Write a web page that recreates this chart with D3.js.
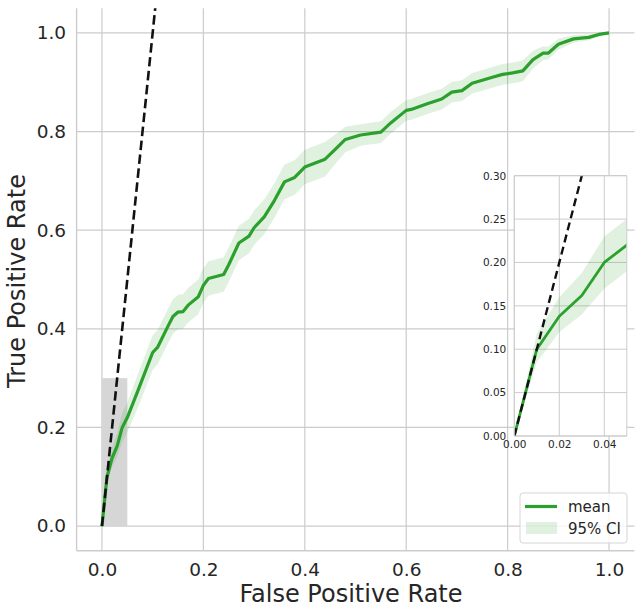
<!DOCTYPE html>
<html>
<head>
<meta charset="utf-8">
<title>ROC curve</title>
<script src="https://d3js.org/d3.v7.min.js"></script>
<style>
  body { margin: 0; background: #fff; }
  svg { display: block; font-family: "DejaVu Sans", sans-serif; }
</style>
</head>
<body>
<svg id="chart"></svg>
<script>
    // mean ROC curve and its 95% CI
    let fpr = [0.00, 0.01, 0.02, 0.03, 0.04, 0.05, 0.07, 0.10, 0.11, 0.13, 0.14, 0.15, 0.16, 0.17, 0.19, 0.20,
        0.21, 0.24, 0.25, 0.27, 0.29, 0.30, 0.32, 0.34, 0.36, 0.38, 0.40, 0.44, 0.46, 0.48, 0.51, 0.55, 0.57,
        0.60, 0.61, 0.64, 0.67, 0.69, 0.71, 0.73, 0.75, 0.77, 0.79, 0.81, 0.83, 0.85, 0.87, 0.88, 0.90, 0.93,
        0.96, 0.98, 1.00];
    let tprMean = [0.000, 0.100, 0.138, 0.162, 0.200, 0.220, 0.272, 0.352, 0.363, 0.405, 0.425, 0.434, 0.435,
        0.448, 0.465, 0.488, 0.502, 0.510, 0.530, 0.574, 0.588, 0.605, 0.627, 0.660, 0.698, 0.707, 0.728, 0.744,
        0.764, 0.784, 0.793, 0.799, 0.818, 0.843, 0.845, 0.856, 0.866, 0.880, 0.883, 0.898, 0.904, 0.910, 0.916,
        0.919, 0.923, 0.946, 0.959, 0.959, 0.977, 0.988, 0.991, 0.997, 1.000];
    let tprLow = [0.000, 0.085, 0.120, 0.140, 0.170, 0.190, 0.238, 0.317, 0.328, 0.370, 0.390, 0.399, 0.400,
        0.413, 0.430, 0.453, 0.467, 0.475, 0.495, 0.539, 0.553, 0.570, 0.592, 0.625, 0.663, 0.672, 0.693, 0.709,
        0.734, 0.758, 0.771, 0.777, 0.796, 0.822, 0.824, 0.835, 0.845, 0.859, 0.862, 0.877, 0.883, 0.889, 0.895,
        0.898, 0.902, 0.928, 0.945, 0.946, 0.966, 0.980, 0.985, 0.993, 1.000];
    let tprHigh = [0.000, 0.118, 0.160, 0.188, 0.230, 0.250, 0.306, 0.387, 0.398, 0.440, 0.460, 0.469, 0.470,
        0.483, 0.500, 0.523, 0.537, 0.545, 0.565, 0.609, 0.623, 0.640, 0.662, 0.695, 0.733, 0.742, 0.763, 0.779,
        0.794, 0.810, 0.815, 0.821, 0.840, 0.864, 0.866, 0.877, 0.887, 0.901, 0.904, 0.919, 0.925, 0.931, 0.937,
        0.940, 0.944, 0.964, 0.973, 0.972, 0.988, 0.996, 0.997, 1.000, 1.000];

    // dashed reference line y = 10x
    let refX = [0, 0.2];
    let refY = [0, 2.0];

    // zoomed region (grey box in main plot, domain of inset)
    let zoomX = [0, 0.05];
    let zoomY = [0, 0.3];

    let mainTicks = [0, 0.2, 0.4, 0.6, 0.8, 1.0];
    let insetXTicks = [0, 0.02, 0.04];
    let insetYTicks = [0, 0.05, 0.10, 0.15, 0.20, 0.25, 0.30];
    let legendLabels = ["mean", "95% CI"];
</script>
<script>
    const WIDTH = 641, HEIGHT = 614;
    const green = "#2ca02c", grid = "#cccccc", ink = "#262626";

    let svg = d3.select("#chart").attr("width", WIDTH).attr("height", HEIGHT);
    svg.append("rect").attr("width", WIDTH).attr("height", HEIGHT).attr("fill", "#fff");

    let data = fpr.map((f, i) => ({ x: f, y: tprMean[i], lo: tprLow[i], hi: tprHigh[i] }));
    let refData = refX.map((f, i) => ({ x: f, y: refY[i] }));

    function drawPanel(g, xScale, yScale, id, opts) {
        let [x0, x1] = xScale.range(), [y0, y1] = yScale.range();
        g.append("clipPath").attr("id", id)
            .append("rect").attr("x", x0).attr("y", y1).attr("width", x1 - x0).attr("height", y0 - y1);

        if (opts.background) {
            g.append("rect").attr("x", x0).attr("y", y1).attr("width", x1 - x0).attr("height", y0 - y1)
                .attr("fill", "#fff");
        }
        // grid
        g.append("g").selectAll("line").data(opts.xTicks).enter().append("line")
            .attr("x1", d => xScale(d)).attr("x2", d => xScale(d))
            .attr("y1", y0).attr("y2", y1)
            .attr("stroke", grid).attr("stroke-width", opts.gridWidth);
        g.append("g").selectAll("line").data(opts.yTicks).enter().append("line")
            .attr("y1", d => yScale(d)).attr("y2", d => yScale(d))
            .attr("x1", x0).attr("x2", x1)
            .attr("stroke", grid).attr("stroke-width", opts.gridWidth);

        let plot = g.append("g").attr("clip-path", "url(#" + id + ")");

        if (opts.zoomBox) {
            plot.append("rect")
                .attr("x", xScale(zoomX[0])).attr("width", xScale(zoomX[1]) - xScale(zoomX[0]))
                .attr("y", yScale(zoomY[1])).attr("height", yScale(zoomY[0]) - yScale(zoomY[1]))
                .attr("fill", "#d6d6d6");
        }

        let band = d3.area().x(d => xScale(d.x)).y0(d => yScale(d.lo)).y1(d => yScale(d.hi));
        plot.append("path").datum(data).attr("d", band)
            .attr("fill", green).attr("fill-opacity", 0.15);

        let line = d3.line().x(d => xScale(d.x)).y(d => yScale(d.y));
        plot.append("path").datum(data).attr("d", line)
            .attr("fill", "none").attr("stroke", green).attr("stroke-width", opts.lineWidth)
            .attr("stroke-linejoin", "round");

        plot.append("path").datum(refData).attr("d", line)
            .attr("fill", "none").attr("stroke", "#111").attr("stroke-width", opts.dashWidth)
            .attr("stroke-dasharray", opts.dash);

        // axes (labels only, seaborn style: no tick marks)
        let fmt = opts.format;
        let ax = g.append("g").attr("transform", "translate(0," + y0 + ")")
            .call(d3.axisBottom(xScale).tickValues(opts.xTicks).tickFormat(fmt).tickSize(0).tickPadding(opts.xPad));
        let ay = g.append("g").attr("transform", "translate(" + x0 + ",0)")
            .call(d3.axisLeft(yScale).tickValues(opts.yTicks).tickFormat(fmt).tickSize(0).tickPadding(opts.yPad));
        [ax, ay].forEach(a => {
            a.select(".domain").remove();
            a.selectAll("text").attr("fill", ink).style("font-size", opts.fontSize + "px")
                .style("font-family", "DejaVu Sans");
        });

        // spines
        g.append("line").attr("x1", x0).attr("x2", x0).attr("y1", y0).attr("y2", y1)
            .attr("stroke", grid).attr("stroke-width", opts.spineWidth);
        g.append("line").attr("x1", x0).attr("x2", x1).attr("y1", y0).attr("y2", y0)
            .attr("stroke", grid).attr("stroke-width", opts.spineWidth);
        if (opts.allSpines) {
            g.append("line").attr("x1", x1).attr("x2", x1).attr("y1", y0).attr("y2", y1)
                .attr("stroke", grid).attr("stroke-width", opts.spineWidth);
            g.append("line").attr("x1", x0).attr("x2", x1).attr("y1", y1).attr("y2", y1)
                .attr("stroke", grid).attr("stroke-width", opts.spineWidth);
        }
    }

    // main axes
    let xScale = d3.scaleLinear().domain([-0.05, 1.05]).range([76.6, 634.4]);
    let yScale = d3.scaleLinear().domain([-0.05, 1.05]).range([550.7, 8.3]);
    let main = svg.append("g");
    drawPanel(main, xScale, yScale, "clipMain", {
        xTicks: mainTicks, yTicks: mainTicks, format: d3.format(".1f"),
        gridWidth: 1.2, lineWidth: 3.2, dashWidth: 2.6, dash: "9.5,4.5", spineWidth: 1.4,
        fontSize: 18.5, xPad: 12, yPad: 10.5, zoomBox: true
    });

    main.append("text").attr("x", 351).attr("y", 602)
        .attr("text-anchor", "middle").attr("fill", ink).style("font-size", "24px")
        .text("False Positive Rate");
    main.append("text").attr("transform", "translate(25,281) rotate(-90)")
        .attr("text-anchor", "middle").attr("fill", ink).style("font-size", "24px")
        .text("True Positive Rate");

    // legend
    let legend = svg.append("g").attr("transform", "translate(520,493)");
    legend.append("rect").attr("width", 107).attr("height", 50).attr("rx", 3)
        .attr("fill", "#fff").attr("fill-opacity", 0.8).attr("stroke", "#d5d5d5").attr("stroke-width", 1);
    legend.append("line").attr("x1", 5).attr("x2", 37).attr("y1", 13.5).attr("y2", 13.5)
        .attr("stroke", green).attr("stroke-width", 3.2);
    legend.append("rect").attr("x", 6).attr("y", 29).attr("width", 31).attr("height", 12)
        .attr("fill", green).attr("fill-opacity", 0.15);
    legend.selectAll("text.lab").data(legendLabels).enter().append("text").attr("class", "lab")
        .attr("x", 48).attr("y", (d, i) => 13.5 + i * 22).attr("dy", "0.35em")
        .attr("fill", ink).style("font-size", "15px").text(d => d);

    // inset
    let ixScale = d3.scaleLinear().domain(zoomX).range([514.3, 626.8]);
    let iyScale = d3.scaleLinear().domain(zoomY).range([436, 175.7]);
    let inset = svg.append("g");
    drawPanel(inset, ixScale, iyScale, "clipInset", {
        xTicks: insetXTicks, yTicks: insetYTicks, format: d3.format(".2f"),
        gridWidth: 1, lineWidth: 2.8, dashWidth: 2.4, dash: "8,4.5", spineWidth: 1,
        fontSize: 10.5, xPad: 5, yPad: 8, background: true, allSpines: true
    });
</script>
</body>
</html>
